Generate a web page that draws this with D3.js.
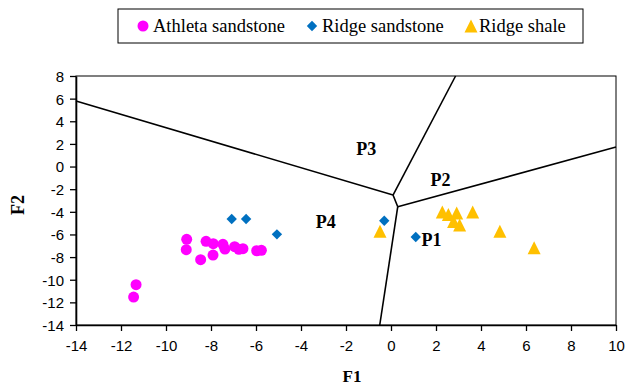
<!DOCTYPE html>
<html>
<head>
<meta charset="utf-8">
<script src="https://cdn.jsdelivr.net/npm/d3@7"></script>
<style>
  html, body { margin: 0; padding: 0; background: #fff; }
  svg { display: block; }
</style>
</head>
<body>
<svg id="chart" width="628" height="387"></svg>
<script>
// ---- data ----
const seriesNames = ["Athleta sandstone", "Ridge sandstone", "Ridge shale"];
const seriesColors = ["#FF00FF", "#0070C0", "#FFC000"];

const athletaF1 = [-9.08, -9.10, -8.46, -8.22, -7.90, -7.91, -7.47, -7.38, -6.95, -6.76, -6.58, -5.97, -5.76, -11.33, -11.44];
const athletaF2 = [-6.43, -7.35, -8.23, -6.61, -6.82, -7.82, -6.87, -7.29, -7.08, -7.31, -7.26, -7.44, -7.40, -10.44, -11.53];

const ridgeSandF1 = [-7.08, -6.44, -5.07, -0.30, 1.10];
const ridgeSandF2 = [-4.64, -4.64, -5.99, -4.79, -6.23];

const ridgeShaleF1 = [-0.49, 2.28, 2.55, 2.92, 3.63, 2.78, 3.05, 4.84, 6.36];
const ridgeShaleF2 = [-5.72, -4.02, -4.23, -4.11, -4.02, -4.86, -5.16, -5.72, -7.17];

// boundary lines (F1, F2 endpoints)
const boundaryX1 = [-14, 0.09, 0.09, 0.30, 0.30];
const boundaryY1 = [5.8, -2.52, -2.52, -3.55, -3.55];
const boundaryX2 = [0.09, 2.87, 0.30, 10, -0.50];
const boundaryY2 = [-2.52, 8, -3.55, 1.72, -14];

const regionLabels = ["P1", "P2", "P3", "P4"];
const regionF1 = [1.8, 2.2, -1.1, -2.9];
const regionF2 = [-6.5, -1.2, 1.6, -4.9];

const xTicks = [-14, -12, -10, -8, -6, -4, -2, 0, 2, 4, 6, 8, 10];
const yTicks = [8, 6, 4, 2, 0, -2, -4, -6, -8, -10, -12, -14];

// ---- drawing ----
const svg = d3.select("#chart");
const pLeft = 76, pRight = 616, pTop = 76, pBottom = 325;
const x = d3.scaleLinear().domain([-14, 10]).range([pLeft, pRight]);
const y = d3.scaleLinear().domain([-14, 8]).range([pBottom, pTop]);

const tickFont = "'Liberation Sans', Arial, sans-serif";
const serif = "'Liberation Serif', 'Times New Roman', serif";

// plot border (top/right)
svg.append("rect")
  .attr("x", pLeft).attr("y", pTop)
  .attr("width", pRight - pLeft).attr("height", pBottom - pTop)
  .attr("fill", "none").attr("stroke", "#000").attr("stroke-width", 1);

// boundary lines
const lines = boundaryX1.map((d, i) => ({x1: d, y1: boundaryY1[i], x2: boundaryX2[i], y2: boundaryY2[i]}));
svg.append("g").selectAll("line").data(lines).join("line")
  .attr("x1", d => x(d.x1)).attr("y1", d => y(d.y1))
  .attr("x2", d => x(d.x2)).attr("y2", d => y(d.y2))
  .attr("stroke", "#000").attr("stroke-width", 1.6);

// axes
const xAxis = svg.append("g").attr("transform", `translate(0,${pBottom})`)
  .call(d3.axisBottom(x).tickValues(xTicks).tickSize(6).tickSizeOuter(0).tickPadding(9).tickFormat(d3.format("d")));
const yAxis = svg.append("g").attr("transform", `translate(${pLeft},0)`)
  .call(d3.axisLeft(y).tickValues(yTicks).tickSize(6).tickSizeOuter(0).tickPadding(6).tickFormat(d3.format("d")));
[xAxis, yAxis].forEach(a => {
  a.selectAll("path.domain").attr("stroke", "#000").attr("stroke-width", 1.6);
  a.selectAll(".tick line").attr("stroke", "#000").attr("stroke-width", 1.3);
  a.selectAll(".tick text").attr("font-family", tickFont).attr("font-size", 15).attr("fill", "#000")
    .text(d => d < 0 ? "-" + Math.abs(d) : d);
});
yAxis.selectAll(".tick text").attr("dy", "0.36em");

// axis titles
svg.append("text").attr("x", 352).attr("y", 382).attr("text-anchor", "middle")
  .attr("font-family", serif).attr("font-weight", "bold").attr("font-size", 17).text("F1");
svg.append("text").attr("transform", "translate(24,205) rotate(-90)").attr("text-anchor", "middle")
  .attr("font-family", serif).attr("font-weight", "bold").attr("font-size", 18).text("F2");

// region labels
svg.append("g").selectAll("text").data(regionLabels).join("text")
  .attr("x", (d, i) => x(regionF1[i])).attr("y", (d, i) => y(regionF2[i]))
  .attr("text-anchor", "middle").attr("dy", "0.35em")
  .attr("font-family", serif).attr("font-weight", "bold").attr("font-size", 18).text(d => d);

// markers
const sym = [d3.symbolCircle, d3.symbolDiamond, d3.symbolTriangle];
const sizes = [95, 60, 90];
const seriesData = [
  athletaF1.map((v, i) => [v, athletaF2[i]]),
  ridgeSandF1.map((v, i) => [v, ridgeSandF2[i]]),
  ridgeShaleF1.map((v, i) => [v, ridgeShaleF2[i]])
];
function markerPath(k) {
  if (k === 1) {
    const s = 5.2;
    return `M0,${-s}L${s},0L0,${s}L${-s},0Z`;
  }
  if (k === 2) {
    const h = 13, w = 13;
    return `M0,${-h/2}L${w/2},${h/2}L${-w/2},${h/2}Z`;
  }
  return d3.symbol().type(sym[k]).size(sizes[k])();
}
seriesData.forEach((pts, k) => {
  svg.append("g").selectAll("path").data(pts).join("path")
    .attr("transform", d => `translate(${x(d[0])},${y(d[1])})`)
    .attr("d", markerPath(k)).attr("fill", seriesColors[k]);
});

// legend
const lg = svg.append("g");
lg.append("rect").attr("x", 118).attr("y", 9).attr("width", 465).attr("height", 34)
  .attr("fill", "#fff").attr("stroke", "#000").attr("stroke-width", 1);
const legX = [143, 312, 471];
const legTextX = [153, 322, 479];
seriesNames.forEach((n, k) => {
  lg.append("path").attr("transform", `translate(${legX[k]},26)`).attr("d", markerPath(k)).attr("fill", seriesColors[k]);
  lg.append("text").attr("x", legTextX[k]).attr("y", 32).attr("font-family", serif)
    .attr("font-size", 18.5).attr("fill", "#000").text(n);
});
</script>
</body>
</html>
